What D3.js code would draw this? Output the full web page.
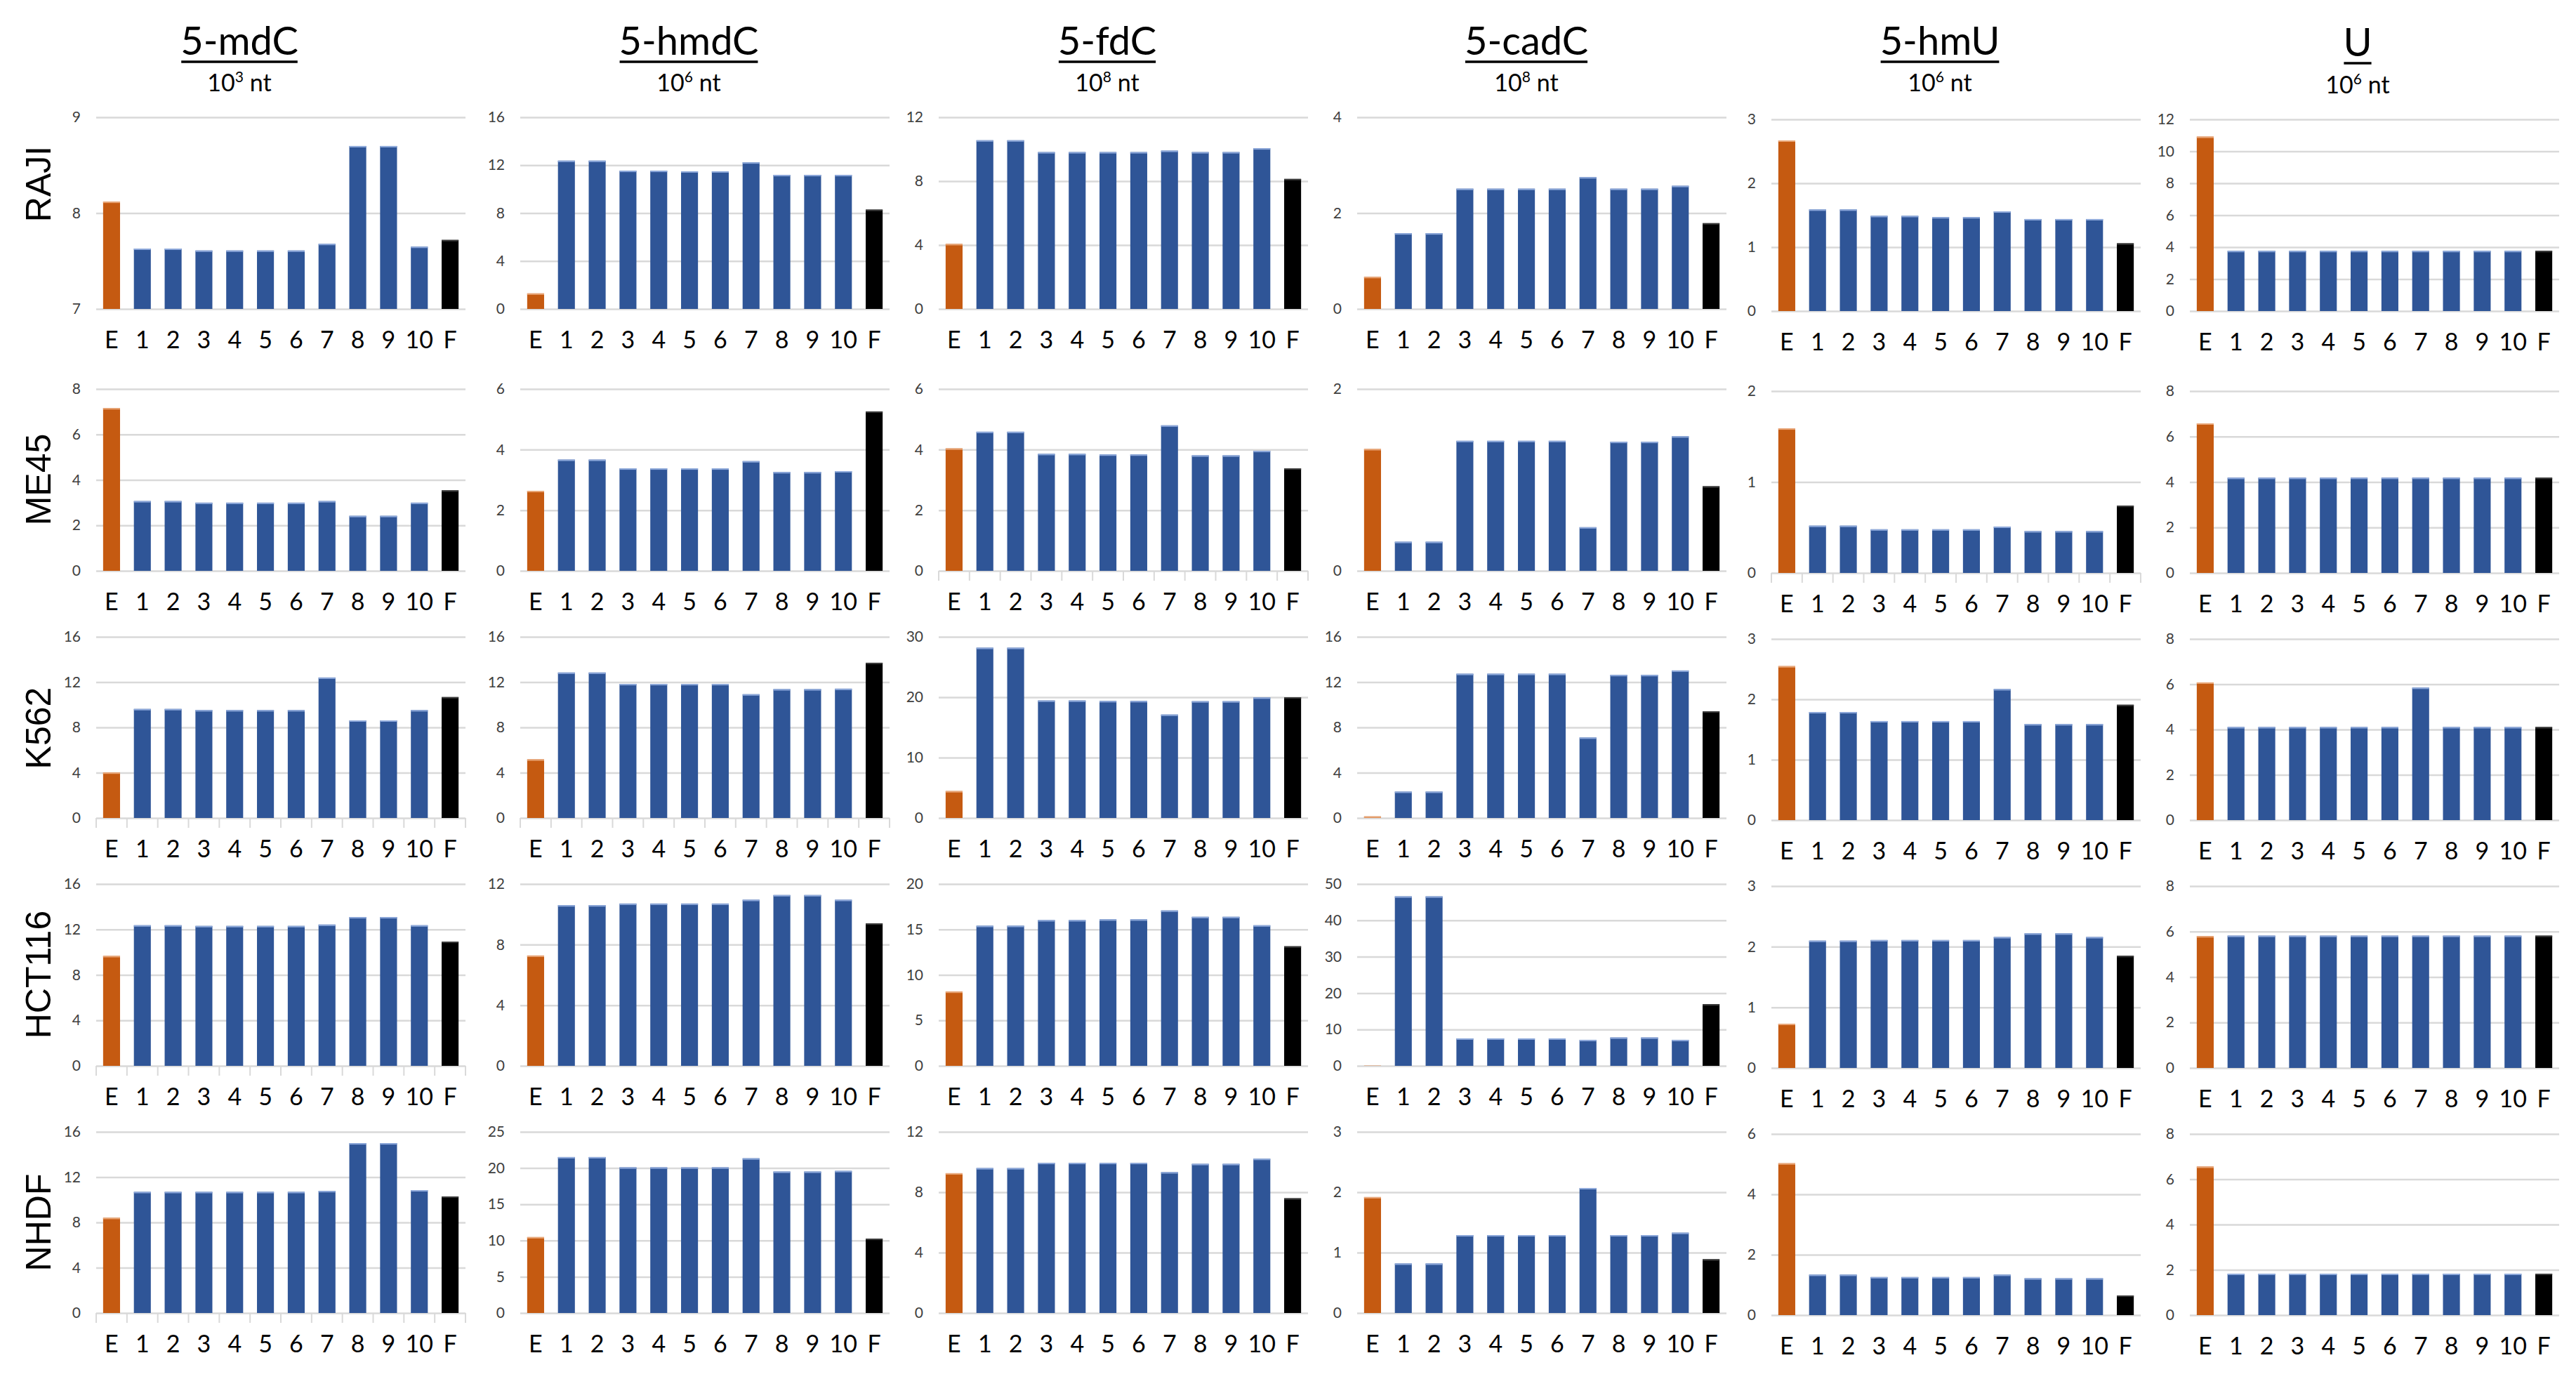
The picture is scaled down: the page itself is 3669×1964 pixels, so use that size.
<!DOCTYPE html>
<html>
<head>
<meta charset="utf-8">
<script src="https://cdn.jsdelivr.net/npm/d3@7"></script>
<style>
  html, body { margin: 0; padding: 0; background: #fff; }
  svg { display: block; }
</style>
</head>
<body>
<svg id="chart"></svg>
<script>
// ─── DATA ─────────────────────────────────────────────────────────────────────

const modifications = ["5-mdC", "5-hmdC", "5-fdC", "5-cadC", "5-hmU", "U"];
const unitExponents = ["3", "6", "8", "8", "6", "6"];
const cellLines = ["RAJI", "ME45", "K562", "HCT116", "NHDF"];
const categories = ["E", "1", "2", "3", "4", "5", "6", "7", "8", "9", "10", "F"];

// one array per modification (E, 1..10, F)
const valuesRAJI = [
  [8.12, 7.63, 7.63, 7.61, 7.61, 7.61, 7.61, 7.68, 8.7, 8.7, 7.65, 7.72],
  [1.3, 12.38, 12.38, 11.54, 11.54, 11.49, 11.49, 12.24, 11.19, 11.19, 11.19, 8.29],
  [4.07, 10.56, 10.56, 9.82, 9.82, 9.82, 9.82, 9.91, 9.82, 9.82, 10.06, 8.14],
  [0.67, 1.58, 1.58, 2.51, 2.51, 2.51, 2.51, 2.75, 2.51, 2.51, 2.57, 1.79],
  [2.67, 1.59, 1.59, 1.49, 1.49, 1.47, 1.47, 1.56, 1.44, 1.44, 1.44, 1.06],
  [10.92, 3.77, 3.77, 3.77, 3.77, 3.77, 3.77, 3.77, 3.77, 3.77, 3.77, 3.77],
];
const valuesME45 = [
  [7.16, 3.07, 3.07, 3.0, 3.0, 3.0, 3.0, 3.07, 2.42, 2.42, 3.0, 3.54],
  [2.64, 3.67, 3.67, 3.38, 3.38, 3.38, 3.38, 3.62, 3.26, 3.26, 3.29, 5.26],
  [4.04, 4.59, 4.59, 3.86, 3.86, 3.84, 3.84, 4.8, 3.81, 3.81, 3.96, 3.38],
  [1.34, 0.32, 0.32, 1.43, 1.43, 1.43, 1.43, 0.48, 1.42, 1.42, 1.48, 0.93],
  [1.59, 0.52, 0.52, 0.48, 0.48, 0.48, 0.48, 0.51, 0.46, 0.46, 0.46, 0.74],
  [6.58, 4.19, 4.19, 4.19, 4.19, 4.19, 4.19, 4.19, 4.19, 4.19, 4.19, 4.19],
];
const valuesK562 = [
  [4.02, 9.63, 9.63, 9.53, 9.53, 9.53, 9.53, 12.41, 8.62, 8.62, 9.53, 10.68],
  [5.18, 12.85, 12.85, 11.84, 11.84, 11.84, 11.84, 10.93, 11.38, 11.38, 11.42, 13.71],
  [4.46, 28.2, 28.2, 19.46, 19.46, 19.38, 19.38, 17.13, 19.34, 19.34, 19.96, 20.0],
  [0.14, 2.33, 2.33, 12.74, 12.74, 12.74, 12.74, 7.11, 12.64, 12.64, 13.03, 9.42],
  [2.55, 1.79, 1.79, 1.64, 1.64, 1.64, 1.64, 2.17, 1.59, 1.59, 1.59, 1.91],
  [6.08, 4.11, 4.11, 4.11, 4.11, 4.11, 4.11, 5.85, 4.11, 4.11, 4.11, 4.11],
];
const valuesHCT116 = [
  [9.67, 12.37, 12.37, 12.31, 12.31, 12.31, 12.31, 12.43, 13.09, 13.09, 12.37, 10.93],
  [7.28, 10.6, 10.6, 10.71, 10.71, 10.71, 10.71, 10.96, 11.27, 11.27, 10.96, 9.4],
  [8.17, 15.41, 15.41, 16.03, 16.03, 16.11, 16.11, 17.09, 16.39, 16.39, 15.46, 13.15],
  [0.05, 46.6, 46.6, 7.54, 7.54, 7.54, 7.54, 7.15, 7.8, 7.8, 7.15, 16.95],
  [0.73, 2.1, 2.1, 2.11, 2.11, 2.11, 2.11, 2.16, 2.22, 2.22, 2.16, 1.85],
  [5.8, 5.82, 5.82, 5.82, 5.82, 5.82, 5.82, 5.82, 5.82, 5.82, 5.82, 5.82],
];
const valuesNHDF = [
  [8.41, 10.7, 10.7, 10.7, 10.7, 10.7, 10.7, 10.78, 15.0, 15.0, 10.85, 10.29],
  [10.48, 21.52, 21.52, 20.1, 20.1, 20.1, 20.1, 21.35, 19.52, 19.52, 19.61, 10.26],
  [9.26, 9.6, 9.6, 9.95, 9.95, 9.95, 9.95, 9.33, 9.88, 9.88, 10.22, 7.6],
  [1.92, 0.82, 0.82, 1.29, 1.29, 1.29, 1.29, 2.07, 1.29, 1.29, 1.33, 0.89],
  [5.03, 1.34, 1.34, 1.26, 1.26, 1.26, 1.26, 1.34, 1.22, 1.22, 1.22, 0.65],
  [6.56, 1.83, 1.83, 1.83, 1.83, 1.83, 1.83, 1.83, 1.83, 1.83, 1.83, 1.83],
];

// y-axis tick labels per panel
const ticksRAJI = [[7, 8, 9], [0, 4, 8, 12, 16], [0, 4, 8, 12], [0, 2, 4], [0, 1, 2, 3], [0, 2, 4, 6, 8, 10, 12]];
const ticksME45 = [[0, 2, 4, 6, 8], [0, 2, 4, 6], [0, 2, 4, 6], [0, 2], [0, 1, 2], [0, 2, 4, 6, 8]];
const ticksK562 = [[0, 4, 8, 12, 16], [0, 4, 8, 12, 16], [0, 10, 20, 30], [0, 4, 8, 12, 16], [0, 1, 2, 3], [0, 2, 4, 6, 8]];
const ticksHCT116 = [[0, 4, 8, 12, 16], [0, 4, 8, 12], [0, 5, 10, 15, 20], [0, 10, 20, 30, 40, 50], [0, 1, 2, 3], [0, 2, 4, 6, 8]];
const ticksNHDF = [[0, 4, 8, 12, 16], [0, 5, 10, 15, 20, 25], [0, 4, 8, 12], [0, 1, 2, 3], [0, 2, 4, 6], [0, 2, 4, 6, 8]];

const values = [valuesRAJI, valuesME45, valuesK562, valuesHCT116, valuesNHDF];
const ticks = [ticksRAJI, ticksME45, ticksK562, ticksHCT116, ticksNHDF];

// ─── LAYOUT ───────────────────────────────────────────────────────────────────

const width = 3669,
  height = 1964;

const plotLeft = [137, 741, 1337, 1933, 2523, 3119];
const plotWidth = 526;
const rowTop = [167, 554, 907, 1259, 1612];
const rowBottom = [440, 813, 1165, 1518, 1870];
const colDy = [0, 0, 0, 0, 3, 3];
const titleX = [341, 981, 1577, 2174, 2763, 3358];
const rowLabelY = [262, 683, 1037, 1388, 1741];
// panels where the category tick marks are visible under the axis
const withTicks = new Set(["1-2", "1-4", "2-0", "2-1", "3-0", "4-0"]);

const barColor = (i) => (i === 0 ? "#C55A11" : i === categories.length - 1 ? "#000000" : "#2F5597");
const topColor = (i) => (i === 0 ? "#E9A779" : i === categories.length - 1 ? "#3a3a3a" : "#8EA9DB");

const font = "Lato, 'Open Sans', sans-serif";

const svg = d3.select("#chart").attr("width", width).attr("height", height);
svg.append("rect").attr("width", width).attr("height", height).attr("fill", "#fff");

// ─── COLUMN HEADERS ───────────────────────────────────────────────────────────

modifications.forEach((m, c) => {
  const t = svg
    .append("text")
    .attr("x", titleX[c])
    .attr("y", 78 + (m === "U" ? 2 : 0))
    .attr("text-anchor", "middle")
    .style("font-family", font)
    .style("font-size", "56px")
    .attr("fill", "#000")
    .text(m);
  const bb = t.node().getBBox();
  svg
    .append("line")
    .attr("x1", bb.x + 1)
    .attr("x2", bb.x + bb.width - 1)
    .attr("y1", 88 + (m === "U" ? 2 : 0))
    .attr("y2", 88 + (m === "U" ? 2 : 0))
    .attr("stroke", "#000")
    .attr("stroke-width", 3.5);

  const sub = svg
    .append("text")
    .attr("x", titleX[c])
    .attr("y", 130 + (m === "U" ? 3 : 0))
    .attr("text-anchor", "middle")
    .style("font-family", font)
    .style("font-size", "34px")
    .attr("fill", "#000");
  sub.append("tspan").text("10");
  sub.append("tspan").attr("dy", -13).style("font-size", "21px").text(unitExponents[c]);
  sub.append("tspan").attr("dy", 13).text(" nt");
});

// ─── ROW LABELS ───────────────────────────────────────────────────────────────

cellLines.forEach((name, r) => {
  svg
    .append("text")
    .attr("transform", `translate(54,${rowLabelY[r]}) rotate(-90)`)
    .attr("text-anchor", "middle")
    .attr("dy", "0.36em")
    .style("font-family", "'Liberation Sans', Arial, sans-serif")
    .style("font-size", "50px")
    .attr("fill", "#000")
    .text(name);
});

// ─── PANELS ───────────────────────────────────────────────────────────────────

cellLines.forEach((name, r) => {
  modifications.forEach((m, c) => {
    const tk = ticks[r][c];
    const top = rowTop[r] + colDy[c],
      bottom = rowBottom[r] + colDy[c];

    const x = d3
      .scaleBand()
      .domain(categories)
      .range([plotLeft[c], plotLeft[c] + plotWidth])
      .paddingInner(0.45)
      .paddingOuter(0.225);

    const y = d3
      .scaleLinear()
      .domain([tk[0], tk[tk.length - 1]])
      .range([bottom, top]);

    const g = svg.append("g");

    // gridlines + y labels
    const yAxis = d3
      .axisLeft(y)
      .tickValues(tk)
      .tickSize(-plotWidth)
      .tickPadding(22)
      .tickFormat(d3.format("d"));

    g.append("g")
      .attr("transform", `translate(${plotLeft[c]},0)`)
      .call(yAxis)
      .call((a) => a.select(".domain").remove())
      .call((a) =>
        a.selectAll(".tick line").attr("stroke", "#D9D9D9").attr("stroke-width", 2.5)
      )
      .call((a) =>
        a
          .selectAll(".tick text")
          .attr("x", -22)
          .style("font-family", font)
          .style("font-size", "21px")
          .attr("fill", "#404040")
      );

    // category tick marks
    if (withTicks.has(`${r}-${c}`)) {
      const edges = categories.map((d) => x(d) - (x.step() * 0.45) / 2);
      edges.push(plotLeft[c] + plotWidth);
      g.append("g")
        .selectAll("line")
        .data(edges)
        .join("line")
        .attr("x1", (d) => d)
        .attr("x2", (d) => d)
        .attr("y1", bottom)
        .attr("y2", bottom + 14)
        .attr("stroke", "#D9D9D9")
        .attr("stroke-width", 2);
    }

    // bars
    const vals = values[r][c];
    const bars = g.append("g");
    bars
      .selectAll("rect.bar")
      .data(vals)
      .join("rect")
      .attr("class", "bar")
      .attr("x", (d, i) => x(categories[i]))
      .attr("width", x.bandwidth())
      .attr("y", (d) => y(d))
      .attr("height", (d) => Math.max(0, y(tk[0]) - y(d)))
      .attr("fill", (d, i) => barColor(i));

    bars
      .selectAll("rect.hl")
      .data(vals)
      .join("rect")
      .attr("class", "hl")
      .attr("x", (d, i) => x(categories[i]))
      .attr("width", x.bandwidth())
      .attr("y", (d) => y(d))
      .attr("height", (d) => Math.min(2, Math.max(0, y(tk[0]) - y(d))))
      .attr("fill", (d, i) => topColor(i));

    // category labels
    g.append("g")
      .selectAll("text")
      .data(categories)
      .join("text")
      .attr("x", (d) => x(d) + x.bandwidth() / 2)
      .attr("y", bottom + 56)
      .attr("text-anchor", "middle")
      .style("font-family", font)
      .style("font-size", "34px")
      .attr("fill", "#000")
      .text((d) => d);
  });
});
</script>
</body>
</html>
